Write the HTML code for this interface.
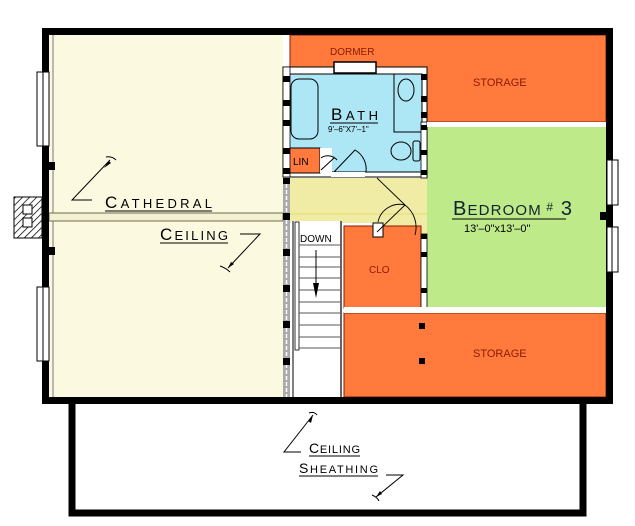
<!DOCTYPE html>
<html><head><style>
html,body{margin:0;padding:0;background:#fff;width:635px;height:526px;overflow:hidden}
svg{display:block}
text{font-family:"Liberation Sans",sans-serif}
</style></head><body>
<svg width="635" height="526" viewBox="0 0 635 526" xmlns="http://www.w3.org/2000/svg">
<rect x="72" y="400" width="511" height="113" fill="#fff" stroke="#000" stroke-width="7"/>
<defs><pattern id="h" width="5" height="5" patternUnits="userSpaceOnUse" patternTransform="rotate(45)"><line x1="0" y1="0" x2="0" y2="5" stroke="#000" stroke-width="1.5"/></pattern></defs>
<rect x="14" y="197" width="28" height="41" fill="url(#h)" stroke="#000"/>
<rect x="23" y="205" width="9" height="9" fill="#fff" stroke="#000"/>
<rect x="23" y="218" width="9" height="9" fill="#fff" stroke="#000"/>
<rect x="45" y="31" width="565" height="370" fill="#fff"/>
<rect x="49" y="35" width="234" height="362" fill="#FCF9E1"/>
<line x1="53" y1="35" x2="53" y2="397" stroke="#777" stroke-width="1"/>
<rect x="49" y="213" width="234" height="8" fill="#F4F0D2" stroke="#6b6b50" stroke-width="1"/>
<path d="M290 35 H606 V122 H427 V67 H290 Z" fill="#FF7A3C" stroke="#8b1a00" stroke-width="1"/>
<rect x="427" y="127" width="179" height="180" fill="#BFEA8A"/>
<rect x="344" y="313" width="262" height="84" fill="#FF7A3C" stroke="#8b1a00" stroke-width="1"/>
<rect x="290" y="178" width="137" height="45" fill="#F0EBA5"/>
<rect x="374" y="223" width="53" height="12" fill="#F0EBA5"/>
<line x1="290" y1="214" x2="427" y2="214" stroke="#e0d860" stroke-width="0.8"/>
<rect x="283" y="67" width="144" height="110" fill="#fff" stroke="#000" stroke-width="1"/>
<rect x="288" y="74" width="134" height="98" fill="#ADE6F5" stroke="#000" stroke-width="1"/>
<rect x="288" y="148" width="32" height="25" fill="#FF7A3C" stroke="#000" stroke-width="1"/>
<text x="293" y="165" font-size="10" fill="#000">LIN</text>
<rect x="320" y="148" width="12" height="25" fill="#fff"/>
<rect x="291" y="79" width="27" height="60" rx="8" fill="none" stroke="#000" stroke-width="1"/>
<rect x="394" y="74" width="28" height="58" fill="none" stroke="#000" stroke-width="1"/>
<ellipse cx="406" cy="90" rx="8" ry="11" fill="none" stroke="#000"/>
<ellipse cx="401" cy="151" rx="10" ry="9" fill="none" stroke="#000"/>
<rect x="413" y="141" width="7" height="20" rx="2" fill="none" stroke="#000"/>
<text x="331" y="120" font-size="17" fill="#000" textLength="47">B<tspan font-size="13">ATH</tspan></text>
<line x1="330" y1="123" x2="378" y2="123" stroke="#000"/>
<text x="328" y="132" font-size="8" fill="#000">9'–6"X7'–1"</text>
<path d="M334 172 L355 150 A22 22 0 0 1 366 172" fill="none" stroke="#000"/>
<path d="M321 170 L334 158 M321 158 A12 12 0 0 1 337 160" fill="none" stroke="#000"/>
<rect x="331" y="172" width="34" height="5" fill="#fff"/>
<rect x="334" y="62" width="42" height="11" fill="#fff" stroke="#000" stroke-width="1.5"/>
<text x="330" y="55" font-size="10" fill="#8b1a00">DORMER</text>
<text x="473" y="86" font-size="11" fill="#8b1a00">STORAGE</text>
<text x="473" y="357" font-size="11" fill="#8b1a00">STORAGE</text>
<rect x="344" y="226" width="77" height="82" fill="#FF7A3C" stroke="#8b1a00" stroke-width="1"/>
<rect x="373" y="223" width="10" height="14" fill="#fff" stroke="#000"/>
<text x="369" y="273" font-size="10" fill="#8b1a00">CLO</text>
<path d="M377 232 L405 205 M378 222 A22 22 0 0 1 405 205 M377 178 L405 205 A28 28 0 0 1 415 235" fill="none" stroke="#000" stroke-width="0.9"/>
<rect x="421" y="122" width="6" height="56" fill="#fff" stroke="#000" stroke-width="0.8"/>
<rect x="421" y="234" width="6" height="74" fill="#fff" stroke="#000" stroke-width="0.8"/>
<rect x="421" y="125" width="6" height="5" fill="#000"/><rect x="421" y="150" width="6" height="5" fill="#000"/><rect x="421" y="170" width="6" height="5" fill="#000"/>
<rect x="421" y="234" width="6" height="5" fill="#000"/><rect x="421" y="252" width="6" height="5" fill="#000"/><rect x="421" y="288" width="6" height="5" fill="#000"/>
<rect x="344" y="307" width="262" height="6" fill="#fff"/>
<rect x="427" y="122" width="179" height="5" fill="#fff"/>
<rect x="419" y="323" width="6" height="6" fill="#000"/><rect x="419" y="358" width="6" height="6" fill="#000"/>
<text x="453" y="215" font-size="20" fill="#123" textLength="119">B<tspan font-size="15">EDROOM</tspan><tspan font-size="12" dy="-4"> #</tspan><tspan dy="4"> 3</tspan></text>
<line x1="452" y1="219" x2="566" y2="219" stroke="#000"/>
<text x="464" y="232" font-size="11" fill="#000">13'–0"x13'–0"</text>
<rect x="291" y="221" width="50" height="176" fill="#fff"/>
<line x1="341" y1="221" x2="341" y2="397" stroke="#666" stroke-width="2"/>
<line x1="293" y1="221" x2="293" y2="397" stroke="#000"/>
<rect x="295" y="222" width="4" height="128" fill="#fff" stroke="#000" stroke-width="0.8"/>
<g stroke="#555" stroke-width="1">
<line x1="299" y1="245" x2="340" y2="245"/><line x1="299" y1="257" x2="340" y2="257"/><line x1="299" y1="267" x2="340" y2="267"/><line x1="299" y1="278" x2="340" y2="278"/><line x1="299" y1="290" x2="340" y2="290"/><line x1="299" y1="302" x2="340" y2="302"/><line x1="299" y1="313" x2="340" y2="313"/><line x1="299" y1="325" x2="340" y2="325"/><line x1="299" y1="337" x2="340" y2="337"/><line x1="299" y1="348" x2="340" y2="348"/>
</g>
<text x="300" y="242" font-size="10" fill="#000">DOWN</text>
<line x1="316" y1="250" x2="316" y2="290" stroke="#000"/>
<path d="M313 283 L319 283 L316 298 Z" fill="#000"/>
<rect x="283" y="67" width="7" height="330" fill="#aaa"/>
<line x1="286.5" y1="70" x2="286.5" y2="397" stroke="#fff" stroke-width="1.5" stroke-dasharray="4 2"/>
<rect x="283" y="67" width="7" height="110" fill="#fff" stroke="#000" stroke-width="0.8"/>
<g fill="#000">
<rect x="283" y="76" width="7" height="6"/><rect x="283" y="100" width="7" height="6"/><rect x="283" y="120" width="7" height="6"/><rect x="283" y="148" width="7" height="6"/><rect x="283" y="168" width="7" height="6"/>
<rect x="283" y="178" width="7" height="6"/><rect x="283" y="213" width="7" height="7"/><rect x="283" y="249" width="7" height="7"/><rect x="283" y="285" width="7" height="7"/><rect x="283" y="321" width="7" height="7"/><rect x="283" y="358" width="7" height="7"/>
<rect x="421" y="74" width="6" height="6"/><rect x="421" y="96" width="6" height="6"/><rect x="421" y="112" width="6" height="6"/>
</g>
<rect x="45.5" y="31.5" width="564" height="369" fill="none" stroke="#000" stroke-width="7"/>
<rect x="37" y="72" width="12" height="74" fill="#fff" stroke="#000"/><line x1="43" y1="72" x2="43" y2="146" stroke="#000"/>
<rect x="37" y="287" width="12" height="74" fill="#fff" stroke="#000"/><line x1="43" y1="287" x2="43" y2="361" stroke="#000"/>
<rect x="607" y="160" width="11" height="45" fill="#fff" stroke="#000"/><line x1="612" y1="160" x2="612" y2="205" stroke="#000"/>
<rect x="607" y="227" width="11" height="45" fill="#fff" stroke="#000"/><line x1="612" y1="227" x2="612" y2="272" stroke="#000"/>
<rect x="600" y="212" width="7" height="8" fill="#000"/>
<rect x="49" y="162" width="6" height="8" fill="#000"/><rect x="49" y="247" width="6" height="8" fill="#000"/>
<g font-size="17" fill="#000">
<text x="105" y="208" textLength="107">C<tspan font-size="13">ATHEDRAL</tspan></text>
<text x="160" y="240" textLength="68">C<tspan font-size="13">EILING</tspan></text>
<text x="309" y="453" font-size="14" textLength="51">C<tspan font-size="11">EILING</tspan></text>
<text x="299" y="473" font-size="14" textLength="79">S<tspan font-size="11">HEATHING</tspan></text>
</g>
<g stroke="#000" fill="none" stroke-width="1">
<line x1="105" y1="211" x2="212" y2="211"/><line x1="160" y1="243" x2="228" y2="243"/>
<line x1="309" y1="456" x2="360" y2="456"/><line x1="299" y1="476" x2="378" y2="476"/>
<path d="M92 200 H72 L110 160"/><path d="M106 157 Q112 156 116 160"/>
<path d="M240 234 H260 L228 268"/><path d="M220 266 Q226 268 230 272"/>
<path d="M301 452 H284 L313 415"/><path d="M309 413 Q314 411 317 415"/>
<path d="M386 475 H403 L376 497"/><path d="M372 495 Q377 497 379 501"/>
</g>
<g fill="#000"><path d="M104 168 L109 161 L111 163 Z"/><path d="M231 262 L228 268 L234 264 Z"/><path d="M308 421 L313 415 L311 423 Z"/><path d="M380 491 L376 497 L382 494 Z"/></g>
</svg>
</body></html>
